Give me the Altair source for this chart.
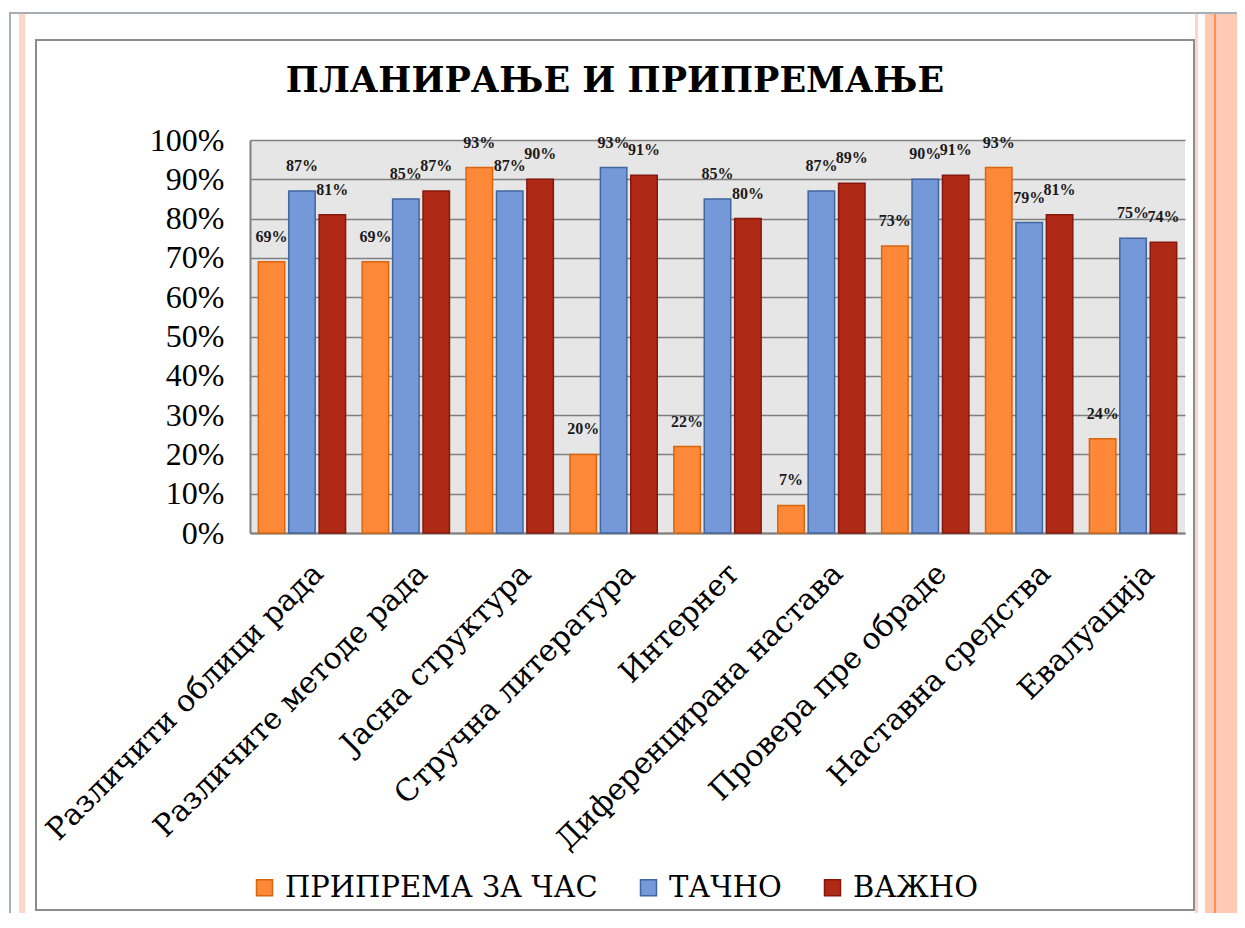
import altair as alt
import pandas as pd

# ---- data ----
categories = [
    "Различити облици рада",
    "Различите методе рада",
    "Јасна структура",
    "Стручна литература",
    "Интернет",
    "Диференцирана настава",
    "Провера пре обраде",
    "Наставна средства",
    "Евалуација",
]
series = ["ПРИПРЕМА ЗА ЧАС", "ТАЧНО", "ВАЖНО"]
priprema = [69, 69, 93, 20, 22, 7, 73, 93, 24]
tacno = [87, 85, 87, 93, 85, 87, 90, 79, 75]
vazno = [81, 87, 90, 91, 80, 89, 91, 81, 74]
y_ticks = list(range(0, 101, 10))
title_text = "ПЛАНИРАЊЕ И ПРИПРЕМАЊЕ"

fill_colors = ["#FD8837", "#7498D8", "#B02816"]
stroke_colors = ["#D9650F", "#41659F", "#86190C"]

rows = []
for s, vals in zip(series, [priprema, tacno, vazno]):
    for c, v in zip(categories, vals):
        rows.append({"cat": c, "series": s, "value": v, "label": f"{v}%"})
df = pd.DataFrame(rows)

SERIF = "Liberation Serif"
CYR = "DejaVu Serif"

x_enc = alt.X(
    "cat:N",
    sort=categories,
    title=None,
    scale=alt.Scale(paddingInner=0.16, paddingOuter=0.08),
    axis=alt.Axis(
        labelAngle=315,
        labelFont=CYR,
        labelFontSize=30,
        labelColor="#000000",
        labelPadding=25,
        labelOffset=6,
        labelLimit=800,
        ticks=False,
        domain=True,
        domainColor="#7F7F7F",
        domainWidth=2,
        grid=False,
    ),
)
xoff_enc = alt.XOffset(
    "series:N", sort=series, scale=alt.Scale(paddingInner=0.13, paddingOuter=0.0)
)
y_enc = alt.Y(
    "value:Q",
    title=None,
    scale=alt.Scale(domain=[0, 100], nice=False),
    axis=alt.Axis(
        values=y_ticks,
        labelExpr="datum.value + '%'",
        labelFont=SERIF,
        labelFontSize=32,
        labelColor="#000000",
        labelPadding=26,
        ticks=False,
        domain=True,
        domainColor="#7F7F7F",
        domainWidth=2,
        grid=True,
        gridColor="#7F7F7F",
        gridWidth=1.6,
    ),
)

bars = alt.Chart(df).mark_bar(strokeWidth=1.5).encode(
    x=x_enc,
    xOffset=xoff_enc,
    y=y_enc,
    fill=alt.Fill(
        "series:N",
        sort=series,
        scale=alt.Scale(domain=series, range=fill_colors),
        legend=alt.Legend(
            title=None,
            orient="none",
            legendX=0,
            legendY=733,
            direction="horizontal",
            columns=3,
            columnPadding=36,
            symbolType="square",
            symbolSize=256,
            symbolStrokeWidth=1.5,
            labelFont=CYR,
            labelFontSize=29,
            labelColor="#000000",
            labelOffset=6,
            labelLimit=600,
        ),
    ),
    stroke=alt.Stroke(
        "series:N",
        sort=series,
        scale=alt.Scale(domain=series, range=stroke_colors),
    ),
)

labels = alt.Chart(df).mark_text(
    baseline="alphabetic",
    dy=-20,
    font=SERIF,
    fontWeight="bold",
    fontSize=16,
    color="#1A1A1A",
).encode(x=x_enc, xOffset=xoff_enc, y=y_enc, text="label:N")

one = alt.Data(values=[{}])
title_mark = alt.Chart(one).mark_text(
    font=CYR,
    fontSize=35,
    fontWeight="bold",
    color="#000000",
    align="center",
    baseline="alphabetic",
).encode(x=alt.value(365), y=alt.value(-48), text=alt.value(title_text))

frame = alt.Chart(one).mark_rect(fillOpacity=0, stroke="#8C8C8C", strokeWidth=2).encode(
    x=alt.value(-214), x2=alt.value(944), y=alt.value(-100), y2=alt.value(770)
)
salmon = alt.Chart(one).mark_rect(fill="#FFC9B4").encode(
    x=alt.value(955), x2=alt.value(987), y=alt.value(-128), y2=alt.value(780)
)
salmon_line = alt.Chart(one).mark_rect(fill="#FF8F55").encode(
    x=alt.value(964), x2=alt.value(966), y=alt.value(-128), y2=alt.value(780)
)
pink_right = alt.Chart(one).mark_rect(fill="#FFD5C6").encode(
    x=alt.value(945), x2=alt.value(948), y=alt.value(-128), y2=alt.value(780)
)
pink_left = alt.Chart(one).mark_rect(fill="#FFD5C6").encode(
    x=alt.value(-231), x2=alt.value(-225), y=alt.value(-127), y2=alt.value(780)
)
gray_left = alt.Chart(one).mark_rect(fill="#A9AEB5").encode(
    x=alt.value(-241), x2=alt.value(-239), y=alt.value(-127), y2=alt.value(780)
)
gray_top = alt.Chart(one).mark_rect(fill="#A9AEB5").encode(
    x=alt.value(-241), x2=alt.value(987), y=alt.value(-128), y2=alt.value(-126)
)

chart = alt.layer(
    salmon, salmon_line, pink_right, pink_left, gray_left, gray_top, frame,
    title_mark, bars, labels
).properties(
    width=935,
    height=393,
    padding={"left": 242, "top": 132, "right": 52, "bottom": 380},
    autosize=alt.AutoSizeParams(type="none"),
    background="#FFFFFF",
).configure_view(fill="#E6E6E6", stroke=None)

chart.save("out.html", embed_options={"renderer": "svg", "actions": False})
